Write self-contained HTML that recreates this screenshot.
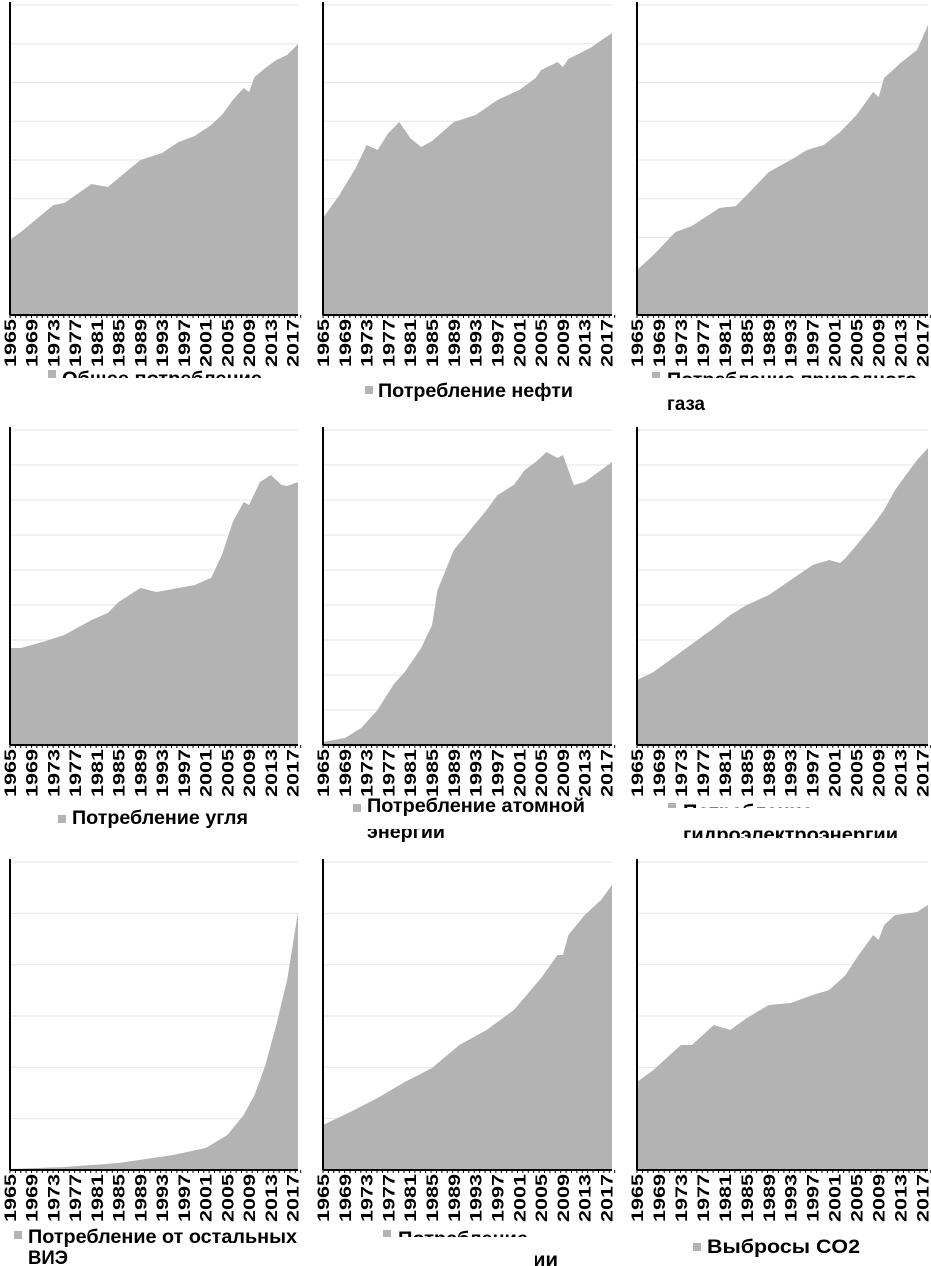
<!DOCTYPE html>
<html><head><meta charset="utf-8"><style>
html,body{margin:0;padding:0;background:#fff;}
svg{display:block;}
text{font-family:"Liberation Sans",Arial,sans-serif;font-weight:bold;fill:#000;}
</style></head><body>
<svg id="s" width="931" height="1266" xmlns="http://www.w3.org/2000/svg"></svg>
<script>
const S=document.getElementById('s');
let h='';
const panels=[
 {x0:10,x1:298,top:5,bot:315,grid:8,d:[[1965,240],[1967,232],[1973,205],[1975,203],[1980,184],[1983,187],[1985,178],[1989,160],[1993,153],[1996,142],[1999,136],[2002,125],[2004,115],[2006,100],[2008,88],[2009,92],[2010,77],[2012,68],[2014,60],[2016,55],[2018,44]]},
 {x0:323,x1:612,top:5,bot:315,grid:8,d:[[1965,218],[1968,195],[1971,168],[1973,145],[1975,150],[1977,133],[1979,122],[1981,138],[1983,147],[1985,141],[1989,122],[1993,115],[1997,100],[2001,90],[2004,78],[2005,70],[2008,62],[2009,67],[2010,59],[2014,48],[2018,33]]},
 {x0:637,x1:928,top:5,bot:315,grid:8,d:[[1965,270],[1968,255],[1972,232],[1975,226],[1980,208],[1983,206],[1985,195],[1989,172],[1993,160],[1996,150],[1999,145],[2002,132],[2005,115],[2008,92],[2009,97],[2010,78],[2013,63],[2016,50],[2018,25]]},
 {x0:10,x1:298,top:430,bot:745,grid:9,d:[[1965,648],[1967,648],[1971,642],[1975,635],[1980,620],[1983,613],[1985,602],[1989,588],[1992,592],[1996,588],[1999,585],[2002,578],[2004,555],[2006,522],[2008,502],[2009,505],[2011,482],[2013,475],[2015,485],[2016,486],[2018,482]]},
 {x0:323,x1:612,top:430,bot:745,grid:9,d:[[1965,742],[1969,738],[1972,728],[1975,710],[1978,684],[1980,672],[1983,648],[1985,625],[1986,590],[1989,550],[1992,530],[1995,510],[1997,495],[2000,485],[2002,470],[2004,462],[2006,452],[2008,458],[2009,455],[2011,485],[2013,482],[2016,470],[2018,462]]},
 {x0:637,x1:928,top:430,bot:745,grid:9,d:[[1965,680],[1968,672],[1973,652],[1976,640],[1979,628],[1982,615],[1985,605],[1989,595],[1993,580],[1997,565],[2000,560],[2002,563],[2003,558],[2005,545],[2008,525],[2010,510],[2012,490],[2014,475],[2016,460],[2018,448]]},
 {x0:10,x1:298,top:862,bot:1170,grid:6,d:[[1965,1169],[1975,1167],[1985,1163],[1995,1155],[2001,1148],[2005,1135],[2008,1115],[2010,1095],[2012,1065],[2014,1025],[2016,980],[2018,912]]},
 {x0:323,x1:612,top:862,bot:1170,grid:6,d:[[1965,1125],[1970,1112],[1975,1098],[1980,1082],[1985,1068],[1990,1045],[1995,1030],[2000,1010],[2005,978],[2008,955],[2009,955],[2010,935],[2013,915],[2016,900],[2018,885]]},
 {x0:637,x1:928,top:862,bot:1170,grid:6,d:[[1965,1082],[1968,1070],[1973,1045],[1975,1045],[1979,1025],[1982,1030],[1985,1018],[1989,1005],[1993,1003],[1997,995],[2000,990],[2003,975],[2005,958],[2008,935],[2009,940],[2010,925],[2012,915],[2016,912],[2018,905]]}
];
function interp(d,y){for(let i=0;i<d.length-1;i++){if(y>=d[i][0]&&y<=d[i+1][0]){const t=(y-d[i][0])/(d[i+1][0]-d[i][0]);return d[i][1]+t*(d[i+1][1]-d[i][1]);}}return d[d.length-1][1];}
for(const p of panels){
 const X=y=>p.x0+(y-1965)*(p.x1-p.x0)/53;
 for(let g=0;g<p.grid;g++){const gy=p.top+g*(p.bot-p.top)/p.grid;h+=`<line x1="${p.x0}" x2="${p.x1}" y1="${gy}" y2="${gy}" stroke="#e6e6e6" stroke-width="1"/>`;}
 let pts=`${p.x0},${p.bot} `;
 for(let y=1965;y<=2018;y++)pts+=`${X(y).toFixed(1)},${interp(p.d,y).toFixed(1)} `;
 pts+=`${p.x1},${p.bot}`;
 h+=`<polygon points="${pts}" fill="#b3b3b3"/>`;
 h+=`<line x1="${p.x0}" x2="${p.x0}" y1="${p.top-3}" y2="${p.bot}" stroke="#000" stroke-width="2"/>`;
 h+=`<line x1="${p.x0}" x2="${p.x1}" y1="${p.bot}" y2="${p.bot}" stroke="#000" stroke-width="2"/>`;
 for(let y=1965;y<=2019;y++){const tx=p.x0+(y-1965)*(p.x1-p.x0)/53.5;h+=`<line x1="${tx}" x2="${tx}" y1="${p.bot}" y2="${p.bot+3}" stroke="#000" stroke-width="1"/>`;}
 for(let y=1965;y<=2017;y+=4){const tx=X(y)+6;h+=`<text transform="translate(${tx},${p.bot+52}) rotate(-90)" font-size="17" textLength="48" lengthAdjust="spacingAndGlyphs">${y}</text>`;}
}
function leg(x,y,t,w,fs){return `<text x="${x}" y="${y}" font-size="${fs||19}" textLength="${w}" lengthAdjust="spacingAndGlyphs">${t}</text>`;}
function sq(x,y){return `<rect x="${x}" y="${y}" width="8" height="8" fill="#b3b3b3"/>`;}
h+=`<defs>
<clipPath id="c1"><rect x="0" y="360" width="320" height="18"/></clipPath>
<clipPath id="c3"><rect x="630" y="360" width="300" height="18"/></clipPath>
<clipPath id="c5"><rect x="330" y="829" width="300" height="20"/></clipPath>
<clipPath id="c6"><rect x="630" y="790" width="300" height="18"/></clipPath>
<clipPath id="c6b"><rect x="630" y="830" width="300" height="8"/></clipPath>
<clipPath id="c8"><rect x="330" y="1220" width="300" height="17"/></clipPath>
<clipPath id="c8b"><rect x="535" y="1250" width="25" height="16"/></clipPath>
</defs>`;
h+=`<g clip-path="url(#c1)">${sq(48,370)}${leg(62,385,'Общее потребление',200)}</g>`;
h+=sq(365,386)+leg(378,397,'Потребление нефти',195);
h+=`<g clip-path="url(#c3)">${sq(652,372)}${leg(667,386,'Потребление природного',250)}</g>`;
h+=leg(667,410,'газа',38);
h+=sq(58,815)+leg(72,824,'Потребление угля',176);
h+=sq(353,804)+leg(367,812,'Потребление атомной',218);
h+=`<g clip-path="url(#c5)">${leg(367,838,'энергии',78)}</g>`;
h+=`<g clip-path="url(#c6)">${sq(668,803)}${leg(683,818,'Потребление',130)}</g>`;
h+=`<g clip-path="url(#c6b)">${leg(683,841,'гидроэлектроэнергии',215)}</g>`;
h+=sq(14,1231)+leg(28,1243,'Потребление от остальных',269);
h+=leg(28,1264,'ВИЭ',40);
h+=`<g clip-path="url(#c8)">${sq(383,1230)}${leg(398,1245,'Потребление',130)}</g>`;
h+=`<g clip-path="url(#c8b)">${leg(398,1266,'электроэнергии',160)}</g>`;
h+=sq(693,1243)+leg(707,1253,'Выбросы CO2',153);
S.innerHTML=h;
</script>
</body></html>
